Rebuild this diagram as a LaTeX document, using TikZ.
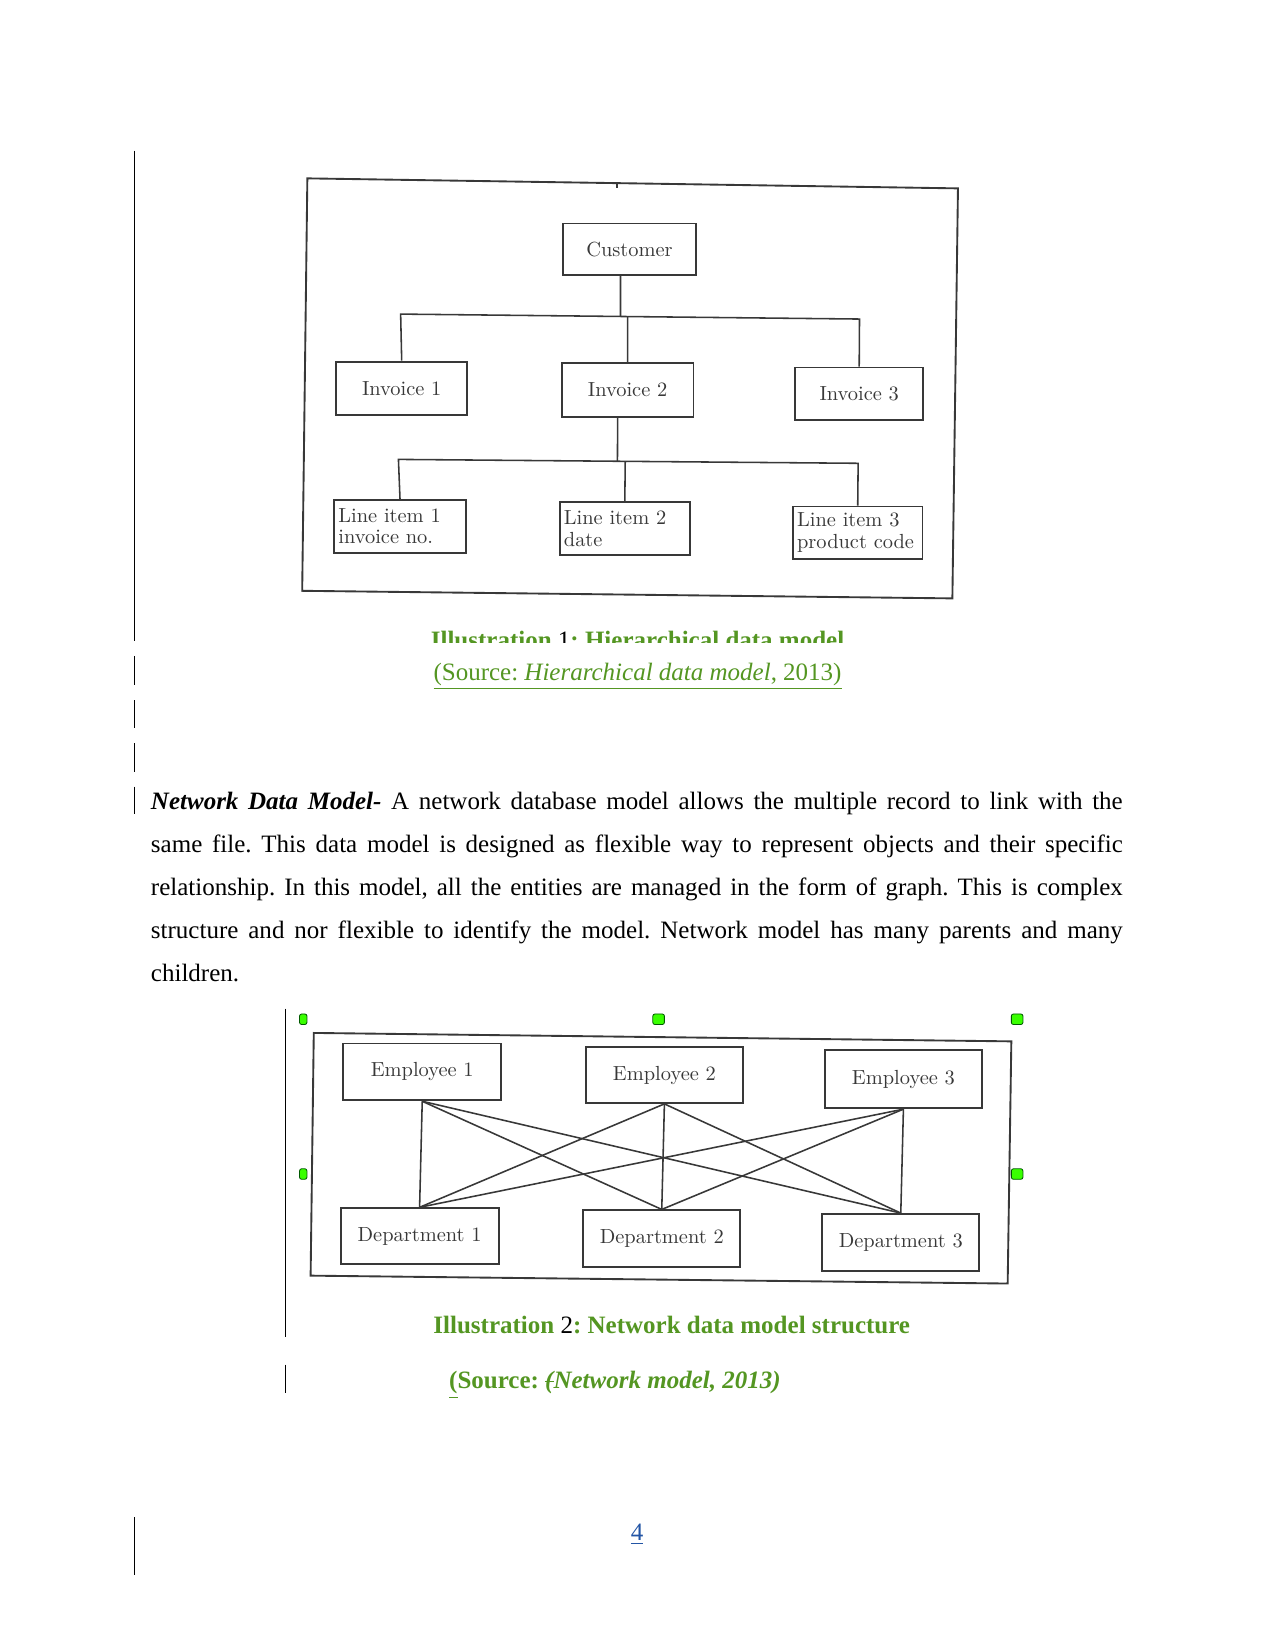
\documentclass[tikz,border=0pt]{standalone}
\usepackage{fontspec}
\setmainfont{Liberation Serif}
\definecolor{capgreen}{RGB}{84,150,34}
\definecolor{pageblue}{RGB}{35,85,165}
\definecolor{scan}{gray}{0.22}
\newcommand{\su}{0.50535pt}
\newcommand{\scanfont}{\fontfamily{lmr}\fontsize{9.8}{10.4}\selectfont}
\newcommand{\bodyfont}{\fontsize{12}{14.4}\selectfont\frenchspacing}
\newcommand{\jline}[1]{\makebox[466.4pt][s]{#1}}
\newcommand{\strk}[1]{\makebox[0pt][l]{\rule[3.3pt]{4.2pt}{0.6pt}}#1}

\begin{document}
\frenchspacing
\begin{tikzpicture}[x=\su,y=-\su,
      entity/.style={draw=scan,line width=.9pt,text=scan,font=\scanfont,
        minimum height=50*\su,inner sep=2pt},
      item/.style={entity,align=left,text width=#1*\su-4pt},
      wire/.style={draw=scan,line width=.75pt},
      frame/.style={draw=scan,line width=.9pt},
      bar/.style={line width=.6pt},
      handle/.style={draw=green!35!black,fill=green!70!lime,line width=.4pt,rounded corners=1pt},
      caption/.style={font=\bodyfont\bfseries,text=capgreen,inner sep=0pt},
      para/.style={anchor=base west,inner sep=0pt,font=\bodyfont}
    ]
    \useasboundingbox (0,0) rectangle (1211,1568);

    % change bars
    \draw[bar] (128,143) -- (128,609);
    \draw[bar] (128,623) -- (128,651);
    \draw[bar] (128,665) -- (128,691);
    \draw[bar] (128,706) -- (128,733);
    \draw[bar] (128,747) -- (128,773);
    \draw[bar] (128,1441) -- (128,1496);
    \draw[bar] (271,958) -- (271,1270);
    \draw[bar] (271,1296) -- (271,1323);

    % hierarchical model
    \draw[frame] (291.9,169.4) -- (909.8,178.9) -- (904.5,568.3) -- (287,561.1) -- cycle;
    \draw[wire] (586,175) -- (586,179);
    \node[entity,minimum width=126*\su,minimum height=49*\su] (cust) at (597.8,236.7) {Customer};
    \node[entity,minimum width=124*\su,minimum height=51*\su] (inv1) at (381.5,368.9) {Invoice 1};
    \node[entity,minimum width=125*\su,minimum height=51*\su] (inv2) at (596.1,370.5) {Invoice 2};
    \node[entity,minimum width=121.5*\su] (inv3) at (816,374) {Invoice 3};
    \node[item=125] (li1) at (379.9,499.8) {Line item 1\\invoice no.};
    \node[item=123.6] (li2) at (593.4,502) {Line item 2\\date};
    \node[item=123] (li3) at (814.6,506) {Line item 3\\product code};

    \coordinate (hbL) at (380.5,298.3);
    \coordinate (hbR) at (816.3,303);
    \coordinate (hbC) at (589.3,300.5);
    \coordinate (hb2) at (596,300.6);
    \draw[wire] (inv1.north) -- (hbL) -- (hbR) -- (inv3.north);
    \draw[wire] ([xshift=-8.5*\su]cust.south) -- (hbC);
    \draw[wire] (inv2.north) -- (hb2);

    \coordinate (lbL) at (378.4,436.3);
    \coordinate (lbR) at (815,440);
    \coordinate (lbC) at (586.4,438.1);
    \coordinate (lb2) at (593.8,438.1);
    \draw[wire] (li1.north) -- (lbL) -- (lbR) -- (li3.north);
    \draw[wire] ([xshift=-9.5*\su]inv2.south) -- (lbC);
    \draw[wire] (li2.north) -- (lb2);

    \begin{scope}
      \clip (380,590) rectangle (830,610.5);
      \node[caption,anchor=base] (cap1) at (605.5,616)
        {Illustration {\color{black}\mdseries 1}: Hierarchical data model};
    \end{scope}
    \node[anchor=base,text=capgreen,inner sep=0pt,font=\bodyfont] (src1) at (605.5,646)
      {\underline{(Source: \textit{Hierarchical data model}, 2013)}};

    % paragraph
    \node[para] (l1) at (143,769)
      {\jline{\textbf{\textit{Network Data Model-}} A network database model allows the multiple record to link with the}};
    \node[para] (l2) at (143,809.5)
      {\jline{same file. This data model is designed as flexible way to represent objects and their specific}};
    \node[para] (l3) at (143,850)
      {\jline{relationship. In this model, all the entities are managed in the form of graph. This is complex}};
    \node[para] (l4) at (143,891)
      {\jline{structure and nor flexible to identify the model. Network model has many parents and many}};
    \node[para] (l5) at (143,932) {children.};

    % network model
    \draw[handle] (284.5,963) rectangle (291.5,973);
    \draw[handle] (620,963) rectangle (631,973);
    \draw[handle] (960.5,963) rectangle (971.5,973);
    \draw[handle] (284.5,1110) rectangle (291.5,1120);
    \draw[handle] (960.5,1110) rectangle (971.5,1120);
    \draw[frame] (298,981) -- (960.5,989) -- (957,1219) -- (295,1211.5) -- cycle;

    \node[entity,minimum width=150*\su,minimum height=54*\su] (emp1) at (401,1018) {Employee 1};
    \node[entity,minimum width=149*\su,minimum height=53*\su] (emp2) at (631,1021) {Employee 2};
    \node[entity,minimum width=149*\su,minimum height=55*\su] (emp3) at (858,1025) {Employee 3};
    \node[entity,minimum width=150*\su,minimum height=53*\su] (dep1) at (398.5,1174) {Department 1};
    \node[entity,minimum width=149*\su,minimum height=54*\su] (dep2) at (628.5,1176.5) {Department 2};
    \node[entity,minimum width=149*\su,minimum height=54*\su] (dep3) at (855.5,1180) {Department 3};
    \foreach \e in {1,2,3}
      \foreach \d in {1,2,3}
        \draw[wire] (emp\e.south) -- (dep\d.north);

    \node[caption,anchor=base] (cap2) at (638,1266)
      {Illustration {\color{black}\mdseries 2}: Network data model structure};
    \node[caption,anchor=base] (src2) at (584,1319)
      {\underline{(}Source: \textit{\strk{(}Network model, 2013)}};

    \node[anchor=base,text=pageblue,inner sep=0pt,font=\bodyfont] (pnum) at (605,1463) {\underline{4}};
  \end{tikzpicture}
\end{document}
